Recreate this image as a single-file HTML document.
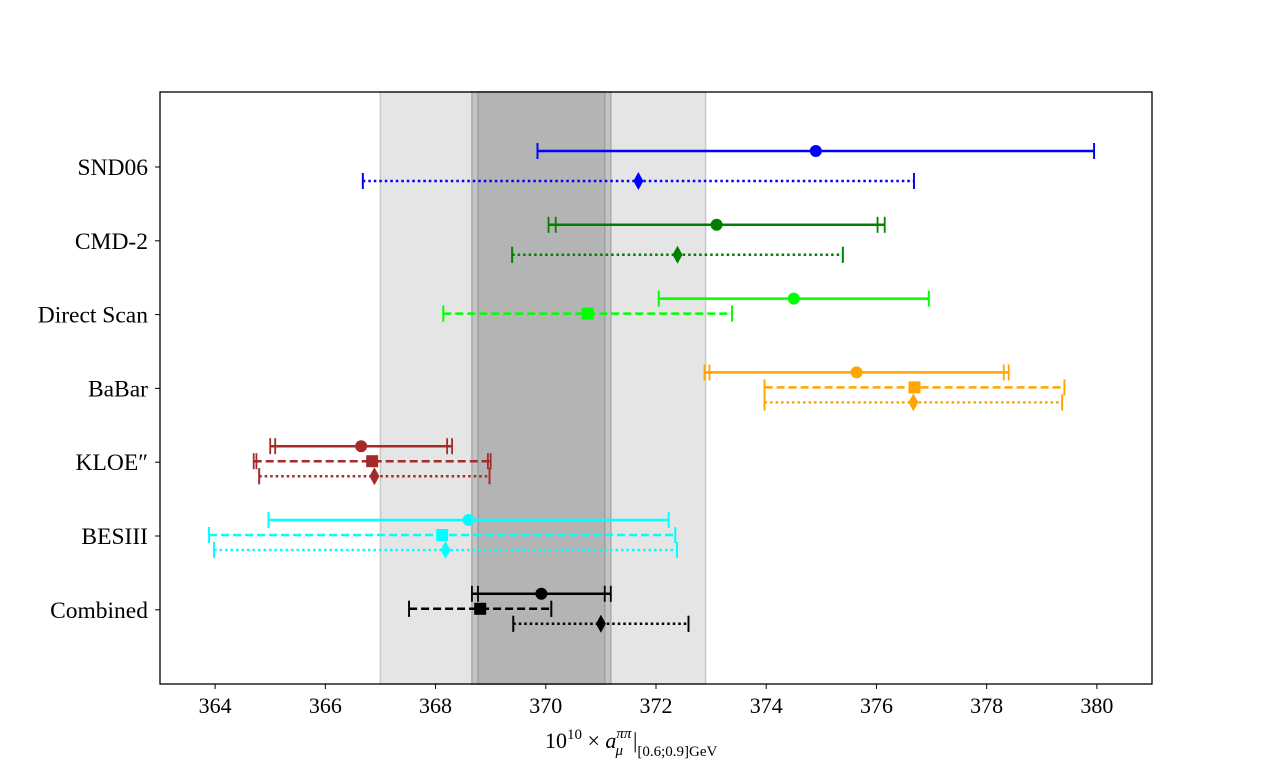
<!DOCTYPE html>
<html><head><meta charset="utf-8">
<style>
body{margin:0;background:#fff;}
svg{display:block;font-family:"Liberation Serif","DejaVu Serif",serif;}
</style></head>
<body>
<svg id="chart" width="1280" height="768" viewBox="0 0 1280 768" xmlns="http://www.w3.org/2000/svg"></svg>
<script>
const categories = ["SND06","CMD-2","Direct Scan","BaBar","KLOE\u2033","BESIII","Combined"];
const catColors = ["#0000ff","#008000","#00ff00","#ffa500","#a52a2a","#00ffff","#000000"];
const solidVals  = [374.90,373.10,374.50,375.64,366.65,368.60,369.92];
const solidErrA  = [5.05,2.92,2.45,2.67,1.56,3.63,1.15];
const solidErrB  = [5.05,3.05,2.45,2.76,1.65,3.63,1.26];
const dashedVals = [null,null,370.76,376.69,366.85,368.12,368.81];
const dashedErrA = [null,null,2.62,2.72,2.10,4.23,1.29];
const dashedErrB = [null,null,2.62,2.72,2.15,4.23,1.29];
const dottedVals = [371.68,372.39,null,376.67,366.89,368.18,371.00];
const dottedErrA = [5.00,3.00,null,2.70,2.09,4.20,1.59];
const dottedErrB = [5.00,3.00,null,2.70,2.09,4.20,1.59];
const xTicks = [364,366,368,370,372,374,376,378,380];
const bandCenter = 369.95, bandLight = 2.95;
const bandMidCenter = 369.92, bandMidErr = 1.26, bandDarkErr = 1.15;

const svg = document.getElementById('chart');
const NS = "http://www.w3.org/2000/svg";
const L=160,R=1152,T=92,B=684, xmin=363,xmax=381;
const xs = v => L + (v-xmin)/(xmax-xmin)*(R-L);
const yCat = i => 167 + i*73.8;
function el(tag, attrs, parent){const e=document.createElementNS(NS,tag);for(const k in attrs)e.setAttribute(k,attrs[k]);(parent||svg).appendChild(e);return e;}

let b;
b=el('rect',{x:xs(bandCenter-bandLight),y:T,width:xs(bandCenter+bandLight)-xs(bandCenter-bandLight),height:B-T,fill:"#e5e5e5",stroke:"#c8c8c8","stroke-width":1.5});

b=el('rect',{x:xs(bandMidCenter-bandMidErr),y:T,width:xs(bandMidCenter+bandMidErr)-xs(bandMidCenter-bandMidErr),height:B-T,fill:"#c4c4c4",stroke:"#aaaaaa","stroke-width":1.5});

b=el('rect',{x:xs(bandMidCenter-bandDarkErr),y:T,width:xs(bandMidCenter+bandDarkErr)-xs(bandMidCenter-bandDarkErr),height:B-T,fill:"#b4b4b4",stroke:"#a0a0a0","stroke-width":1.5});


const fr=el('rect',{x:L,y:T,width:R-L,height:B-T,fill:"none",stroke:"#000","stroke-width":1.3});


xTicks.forEach(t=>{
  const x=xs(t);
  el('line',{x1:x,x2:x,y1:B,y2:B+5,stroke:"#000","stroke-width":1});
  const tx=el('text',{x:x,y:B+29,"text-anchor":"middle","font-size":22,fill:"#000"});
  tx.textContent=t;
  
});
categories.forEach((c,i)=>{
  const y=yCat(i);
  el('line',{x1:L-5,x2:L,y1:y,y2:y,stroke:"#000","stroke-width":1});
  const tx=el('text',{x:L-12,y:y+8,"text-anchor":"end","font-size":23.5,fill:"#000"});
  tx.textContent=c;
  
});
const xt=el('text',{x:545,y:748,"text-anchor":"start","font-size":22,fill:"#000"});
xt.innerHTML='10<tspan dy="-9" font-size="15">10</tspan><tspan dy="9"> × </tspan><tspan font-style="italic">a</tspan><tspan dy="-10" font-size="15" font-style="italic">ππ</tspan><tspan dx="-16" dy="17" font-size="15" font-style="italic">μ</tspan><tspan dx="10" dy="-7">|</tspan><tspan dy="8" font-size="15">[0.6;0.9]GeV</tspan>';


function drawBar(i,v,ea,eb,off,dash,marker){
  if(v==null) return;
  const y=yCat(i)+off, col=catColors[i];
  const g=el('g',{});
  
  const e=Math.max(ea,eb);
  el('line',{x1:xs(v-e),x2:xs(v+e),y1:y,y2:y,stroke:col,"stroke-width":2.5,"stroke-dasharray":dash},g);
  [ea,eb].forEach(er=>{
    [v-er,v+er].forEach(p=>el('line',{x1:xs(p),x2:xs(p),y1:y-8,y2:y+8,stroke:col,"stroke-width":1.8},g));
  });
  const cx=xs(v);
  if(marker==='circle') el('circle',{cx:cx,cy:y,r:6,fill:col},g);
  else if(marker==='square') el('rect',{x:cx-6,y:y-6,width:12,height:12,fill:col},g);
  else el('polygon',{points:`${cx},${y-9} ${cx+5},${y} ${cx},${y+9} ${cx-5},${y}`,fill:col},g);
}
categories.forEach((c,i)=>{
  drawBar(i,solidVals[i],solidErrA[i],solidErrB[i],-16,"none",'circle');
  drawBar(i,dashedVals[i],dashedErrA[i],dashedErrB[i],-1,"8,4",'square');
  drawBar(i,dottedVals[i],dottedErrA[i],dottedErrB[i],14,"2.5,3",'diamond');
});
</script>
</body></html>
